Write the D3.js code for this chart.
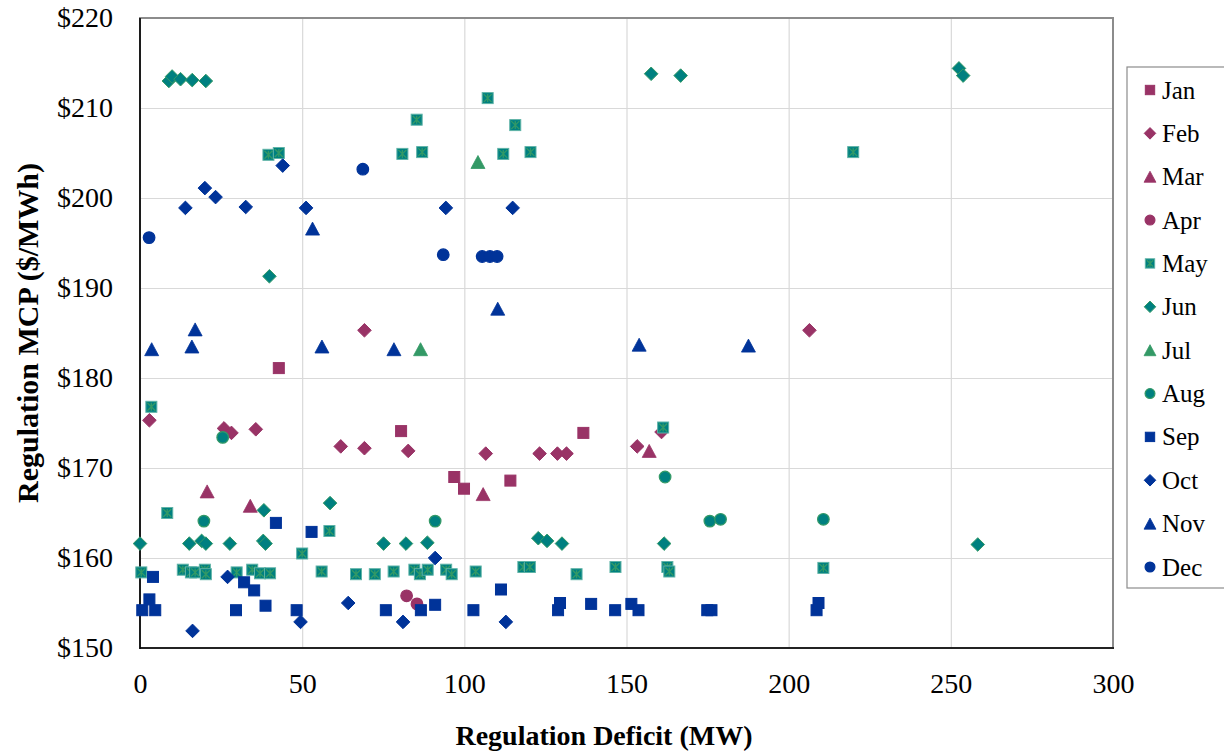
<!DOCTYPE html>
<html>
<head>
<meta charset="utf-8">
<script src="https://cdn.jsdelivr.net/npm/d3@7"></script>
<style>
  html, body { margin: 0; padding: 0; background: #fff; }
  svg { display: block; }
  text { font-family: "Liberation Serif", "Times New Roman", serif; fill: #000; }
</style>
</head>
<body>
<svg id="chart" width="1224" height="753"></svg>
<script>
// Regulation deficit (MW) vs. regulation MCP ($/MWh), one series per month
const months = ["Jan", "Feb", "Mar", "Apr", "May", "Jun", "Jul", "Aug", "Sep", "Oct", "Nov", "Dec"];

const janPts = [[42.8,181.1],[80.5,174.1],[96.9,169.0],[99.9,167.7],[114.2,168.6],[136.7,173.9]];
const febPts = [[2.9,175.3],[25.9,174.4],[28.2,173.9],[35.7,174.3],[61.9,172.4],[69.2,172.2],[69.2,185.3],
  [82.7,171.9],[106.6,171.6],[123.2,171.6],[128.7,171.6],[131.5,171.6],[153.3,172.4],[160.8,174.0],[206.4,185.3]];
const marPts = [[20.7,167.4],[34.0,165.8],[105.8,167.1],[157.0,171.9]];
const aprPts = [[82.2,155.8],[85.4,154.9]];
const mayPts = [[3.5,176.8],[8.4,165.0],[0.4,158.4],[13.2,158.7],[15.7,158.4],[17.0,158.4],[20.0,158.7],[20.3,158.2],
  [29.8,158.4],[34.6,158.7],[37.0,158.3],[40.1,158.3],[39.6,204.8],[42.8,205.0],[50.0,160.5],[56.0,158.5],
  [58.4,163.0],[66.6,158.2],[72.4,158.2],[78.2,158.5],[80.9,204.9],[84.6,158.7],[85.3,208.7],[86.3,158.2],
  [87.0,205.1],[88.7,158.7],[94.4,158.7],[96.1,158.2],[103.5,158.5],[107.2,211.1],[112.0,204.9],[115.7,208.1],
  [118.2,159.0],[120.2,159.0],[120.4,205.1],[134.6,158.2],[146.6,159.0],[161.3,174.5],[162.6,159.0],
  [163.2,158.5],[210.7,158.9],[219.9,205.1]];
const junPts = [[0,161.6],[8.9,213.0],[9.9,213.5],[12.5,213.2],[16.1,213.1],[20.3,213.0],[15.2,161.6],[19.0,161.9],
  [20.3,161.6],[27.7,161.6],[38.0,161.9],[38.7,161.6],[38.2,165.3],[39.9,191.3],[58.6,166.1],[75.1,161.6],
  [82.0,161.6],[88.6,161.7],[122.8,162.2],[125.5,161.9],[130.1,161.6],[157.6,213.8],[161.6,161.6],
  [166.7,213.6],[252.5,214.4],[253.8,213.6],[258.3,161.5]];
const julPts = [[86.5,183.2],[104.2,204.0]];
const augPts = [[19.7,164.1],[25.5,173.4],[91.0,164.1],[161.9,169.0],[175.7,164.1],[179.0,164.3],[210.7,164.3]];
const sepPts = [[0.7,154.2],[2.9,155.4],[4.0,157.9],[4.7,154.2],[29.6,154.2],[32.1,157.3],[35.2,156.4],[38.7,154.7],
  [41.9,163.9],[48.3,154.2],[52.9,162.9],[75.8,154.2],[86.6,154.2],[91.0,154.8],[102.8,154.2],[111.3,156.5],
  [128.9,154.2],[129.5,155.0],[139.1,154.9],[146.5,154.2],[151.5,154.9],[153.7,154.2],[174.9,154.2],
  [176.2,154.2],[208.6,154.2],[209.2,155.0]];
const octPts = [[14.0,198.9],[16.2,151.9],[20.0,201.1],[23.3,200.1],[27.0,157.9],[32.6,199.0],[44.0,203.6],
  [49.5,152.9],[51.2,198.9],[64.2,155.0],[81.1,152.9],[91.0,160.0],[94.3,198.9],[112.8,152.9],[114.9,198.9]];
const novPts = [[3.6,183.2],[16.0,183.5],[17.0,185.4],[53.2,196.6],[56.1,183.5],[78.3,183.2],[110.3,187.7],
  [153.9,183.7],[187.6,183.6]];
const decPts = [[2.8,195.6],[68.7,203.2],[93.5,193.7],[105.5,193.5],[107.9,193.5],[110.1,193.5]];

const xTicks = [0, 50, 100, 150, 200, 250, 300];
const yTicks = [150, 160, 170, 180, 190, 200, 210, 220];

// marker styles
const MAROON = "#993366", NAVY = "#003399", TEAL = "#008080", GREEN = "#339966";

const series = [
  { name: months[0],  pts: janPts, shape: "square",   fill: MAROON, stroke: MAROON },
  { name: months[1],  pts: febPts, shape: "diamond",  fill: MAROON, stroke: MAROON },
  { name: months[2],  pts: marPts, shape: "triangle", fill: MAROON, stroke: MAROON },
  { name: months[3],  pts: aprPts, shape: "circle",   fill: MAROON, stroke: MAROON },
  { name: months[4],  pts: mayPts, shape: "xsquare",  fill: TEAL,   stroke: GREEN },
  { name: months[5],  pts: junPts, shape: "diamond",  fill: TEAL,   stroke: GREEN },
  { name: months[6],  pts: julPts, shape: "triangle", fill: GREEN,  stroke: GREEN },
  { name: months[7],  pts: augPts, shape: "circle",   fill: TEAL,   stroke: GREEN },
  { name: months[8],  pts: sepPts, shape: "square",   fill: NAVY,   stroke: NAVY },
  { name: months[9],  pts: octPts, shape: "diamond",  fill: NAVY,   stroke: NAVY },
  { name: months[10], pts: novPts, shape: "triangle", fill: NAVY,   stroke: NAVY },
  { name: months[11], pts: decPts, shape: "circle",   fill: NAVY,   stroke: NAVY }
];

const svg = d3.select("#chart");
svg.append("rect").attr("width", 1224).attr("height", 753).attr("fill", "#fff");

const plot = { left: 140, right: 1113, top: 18, bottom: 648 };
const x = d3.scaleLinear().domain([0, 300]).range([plot.left, plot.right]);
const y = d3.scaleLinear().domain([150, 220]).range([plot.bottom, plot.top]);

// gridlines
const gx = svg.append("g").attr("transform", `translate(0,${plot.bottom})`)
  .call(d3.axisBottom(x).tickValues(xTicks.slice(1, -1)).tickSize(-(plot.bottom - plot.top)).tickFormat(""));
const gy = svg.append("g").attr("transform", `translate(${plot.left},0)`)
  .call(d3.axisLeft(y).tickValues(yTicks.slice(1, -1)).tickSize(-(plot.right - plot.left)).tickFormat(""));
[gx, gy].forEach(g => {
  g.select(".domain").remove();
  g.selectAll("line").attr("stroke", "#d9d9d9").attr("stroke-width", 1.2);
});

// plot frame: grey top/right, black value axes
svg.append("rect")
  .attr("x", plot.left).attr("y", plot.top)
  .attr("width", plot.right - plot.left).attr("height", plot.bottom - plot.top)
  .attr("fill", "none").attr("stroke", "#8c8c8c").attr("stroke-width", 2);
svg.append("line").attr("x1", plot.left).attr("x2", plot.left).attr("y1", plot.top).attr("y2", plot.bottom + 1)
  .attr("stroke", "#000").attr("stroke-width", 1.6);
svg.append("line").attr("x1", plot.left).attr("x2", plot.right + 1).attr("y1", plot.bottom).attr("y2", plot.bottom)
  .attr("stroke", "#000").attr("stroke-width", 1.6);

// tick labels
const ax = svg.append("g").attr("transform", `translate(0,${plot.bottom})`)
  .call(d3.axisBottom(x).tickValues(xTicks).tickSize(0).tickPadding(25).tickFormat(d3.format("d")));
const ay = svg.append("g").attr("transform", `translate(${plot.left},0)`)
  .call(d3.axisLeft(y).tickValues(yTicks).tickSize(0).tickPadding(27).tickFormat(d => "$" + d));
[ax, ay].forEach(g => {
  g.select(".domain").remove();
  g.selectAll("text").attr("font-family", "Liberation Serif, Times New Roman, serif")
    .attr("font-size", 28).attr("fill", "#000");
});

// axis titles
svg.append("text").attr("x", 604).attr("y", 745).attr("text-anchor", "middle")
  .attr("font-size", 28).attr("font-weight", "bold").text("Regulation Deficit (MW)");
svg.append("text").attr("transform", "translate(27,333) rotate(-90)").attr("text-anchor", "middle")
  .attr("dominant-baseline", "central")
  .attr("font-size", 30).attr("font-weight", "bold").text("Regulation MCP ($/MWh)");

// marker drawing
function drawMarker(g, s, k) {
  // k scales the marker (legend markers are slightly smaller)
  if (s.shape === "square" || s.shape === "xsquare") {
    const h = 5.5 * k;
    g.append("rect").attr("x", -h).attr("y", -h).attr("width", 2 * h).attr("height", 2 * h)
      .attr("fill", s.fill).attr("stroke", s.shape === "xsquare" ? "#5fb3a6" : s.stroke).attr("stroke-width", 1);
    if (s.shape === "xsquare") {
      const a = h - 1.5;
      g.append("path")
        .attr("d", `M${-a},${-a}L${a},${a}M${a},${-a}L${-a},${a}M0,${-a}L0,${a}`)
        .attr("stroke", GREEN).attr("stroke-width", 1.3).attr("fill", "none");
    }
  } else if (s.shape === "diamond") {
    const r = 6.8 * k;
    g.append("path").attr("d", `M0,${-r}L${r},0L0,${r}L${-r},0Z`)
      .attr("fill", s.fill).attr("stroke", s.stroke).attr("stroke-width", 1);
  } else if (s.shape === "triangle") {
    const w = 7 * k, hh = 6.5 * k;
    g.append("path").attr("d", `M0,${-hh}L${w},${hh}L${-w},${hh}Z`)
      .attr("fill", s.fill).attr("stroke", s.stroke).attr("stroke-width", 0.8);
  } else {
    g.append("circle").attr("r", 5.8 * k)
      .attr("fill", s.fill).attr("stroke", s.stroke).attr("stroke-width", 1.2);
  }
}

const marks = svg.append("g");
series.forEach(s => {
  marks.append("g").attr("class", "series").selectAll("g")
    .data(s.pts).join("g")
    .attr("transform", d => `translate(${x(d[0])},${y(d[1])})`)
    .each(function () { drawMarker(d3.select(this), s, 1); });
});

// legend
const legend = svg.append("g");
legend.append("rect").attr("x", 1127).attr("y", 67).attr("width", 120).attr("height", 521)
  .attr("fill", "#fff").attr("stroke", "#8c8c8c").attr("stroke-width", 1.2);
const ly = d3.scalePoint().domain(months).range([90, 567]);
series.forEach(s => {
  const row = legend.append("g").attr("transform", `translate(1150,${ly(s.name)})`);
  drawMarker(row, s, 0.85);
  row.append("text").attr("x", 12).attr("y", 0).attr("dominant-baseline", "central")
    .attr("font-size", 25).text(s.name);
});
</script>
</body>
</html>
